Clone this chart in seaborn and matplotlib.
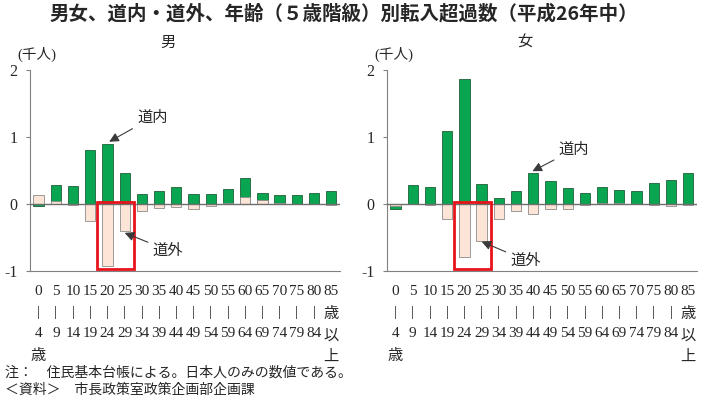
import numpy as np
import pandas as pd
import matplotlib
matplotlib.use("Agg")
import matplotlib.pyplot as plt
import seaborn as sns
from matplotlib.patches import Rectangle

sns.set_style("white")
plt.rcParams["font.family"] = ["Liberation Serif", "Noto Sans CJK JP", "DejaVu Sans"]

# age groups (5-year classes)
age_start = ["0", "5", "10", "15", "20", "25", "30", "35", "40", "45",
             "50", "55", "60", "65", "70", "75", "80", "85"]
age_end = ["4", "9", "14", "19", "24", "29", "34", "39", "44", "49",
           "54", "59", "64", "69", "74", "79", "84", ""]

# net in-migration, thousands
male_in = [-0.03, 0.29, 0.27, 0.80, 0.90, 0.47, 0.15, 0.19, 0.25, 0.15,
           0.15, 0.23, 0.39, 0.16, 0.13, 0.14, 0.17, 0.19]
male_out = [0.13, 0.04, -0.01, -0.26, -0.93, -0.40, -0.11, -0.06, -0.04, -0.08,
            -0.03, 0.02, 0.11, 0.06, 0.01, 0.00, 0.00, -0.01]
female_in = [-0.07, 0.28, 0.25, 1.09, 1.86, 0.30, 0.09, 0.19, 0.46, 0.34,
             0.24, 0.16, 0.26, 0.21, 0.19, 0.32, 0.36, 0.46]
female_out = [-0.03, 0.00, -0.01, -0.22, -0.79, -0.55, -0.23, -0.11, -0.15, -0.08,
              -0.07, -0.01, 0.01, 0.02, 0.00, -0.02, -0.03, -0.02]

GREEN = "#0aa550"
GREEN_EDGE = "#1f5f3a"
PEACH = "#fce4d6"
PEACH_EDGE = "#8c8c8c"
SERIF = ["Liberation Serif", "Noto Sans CJK JP"]
GOTHIC = ["Noto Sans CJK JP"]

labels = []
for i, (s, e) in enumerate(zip(age_start, age_end)):
    if i == 0:
        labels.append(f"{s}\n|\n{e}\n歳")
    elif e == "":
        labels.append(f"{s}\n歳\n以\n上")
    else:
        labels.append(f"{s}\n|\n{e}")

fig = plt.figure(figsize=(7.01, 3.98), dpi=100)
ax1 = fig.add_axes([0.0428, 0.319, 0.442, 0.505])
ax2 = fig.add_axes([0.552, 0.319, 0.442, 0.505])


def draw_panel(ax, inner, outer, lab_in, lab_out):
    df = pd.DataFrame({"age": age_start, "道内": inner, "道外": outer})
    sns.barplot(data=df, x="age", y="道内", order=age_start, color=GREEN,
                saturation=1, width=0.6, edgecolor=GREEN_EDGE, linewidth=0.6, ax=ax)
    sns.barplot(data=df, x="age", y="道外", order=age_start, color=PEACH,
                saturation=1, width=0.6, edgecolor=PEACH_EDGE, linewidth=0.6, ax=ax)
    ax.axhline(0, color="#6e6e6e", lw=1.0, zorder=5)
    ax.set_xlim(-0.5, 17.5)
    ax.set_ylim(-1, 2)
    ax.set_yticks([-1, 0, 1, 2])
    ax.set_yticklabels(["-1", "0", "1", "2"], fontsize=11.5, family=SERIF)
    ax.set_xticks(range(18))
    ax.set_xticklabels(labels, fontsize=11, linespacing=1.8, va="top", family=SERIF)
    ax.tick_params(axis="x", length=0, pad=10)
    ax.tick_params(axis="y", length=3, width=0.8, color="#808080", pad=6, left=True)
    ax.set_xlabel("")
    ax.set_ylabel("")
    for side in ["top", "right"]:
        ax.spines[side].set_visible(False)
    for side in ["left", "bottom"]:
        ax.spines[side].set_color("#808080")
        ax.spines[side].set_linewidth(0.8)
    ax.text(-0.042, 1.04, "(千人)", transform=ax.transAxes, fontsize=10.5,
            ha="left", va="bottom", family=SERIF)
    ax.add_patch(Rectangle((3.39, -0.97), 2.15, 1.0, fill=False,
                           edgecolor="#e8141c", lw=2, zorder=6, clip_on=False))
    arrow = dict(arrowstyle="-|>", color="#3a3a3a", lw=0.8,
                 mutation_scale=14, shrinkA=1, shrinkB=0)
    ax.annotate("道内", xy=lab_in[0], xytext=lab_in[1], fontsize=11,
                ha="center", va="center", arrowprops=arrow, zorder=7,
                family=GOTHIC)
    ax.annotate("道外", xy=lab_out[0], xytext=lab_out[1], fontsize=11,
                ha="center", va="center", arrowprops=arrow, zorder=7,
                family=GOTHIC)


draw_panel(ax1, male_in, male_out,
           ((4.1, 0.93), (6.6, 1.29)), ((5.0, -0.43), (7.5, -0.69)))
draw_panel(ax2, female_in, female_out,
           ((7.95, 0.49), (10.35, 0.81)), ((5.0, -0.56), (7.55, -0.84)))

fig.text(0.49, 0.965, "男女、道内・道外、年齢（５歳階級）別転入超過数（平成26年中）",
         ha="center", va="center", fontsize=14, fontweight="bold", family=GOTHIC)
fig.text(168 / 701, 1 - 42 / 398, "男", ha="center", va="center", fontsize=11,
         family=GOTHIC)
fig.text(525 / 701, 1 - 42 / 398, "女", ha="center", va="center", fontsize=11,
         family=GOTHIC)
fig.text(0.007, 1 - 373 / 398, "注：　住民基本台帳による。日本人のみの数値である。",
         ha="left", va="center", fontsize=10, family=GOTHIC)
fig.text(0.007, 1 - 390 / 398, "＜資料＞　市長政策室政策企画部企画課",
         ha="left", va="center", fontsize=10, family=GOTHIC)

fig.savefig("out.png", dpi=100)
